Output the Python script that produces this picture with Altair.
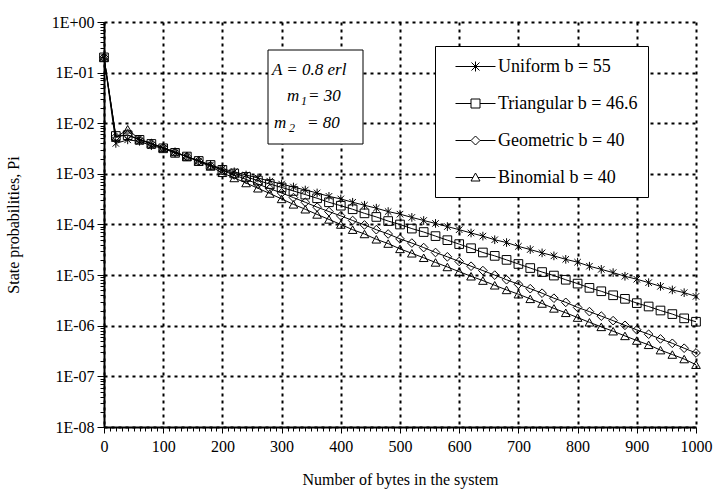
import altair as alt
import pandas as pd

bytes_x = list(range(0, 1001, 20))

series_names = ["Uniform b = 55", "Triangular b = 46.6", "Geometric b = 40", "Binomial b = 40"]

uniform = [2.0e-1, 4.0e-3, 4.7e-3, 4.4e-3, 3.6e-3, 3.2e-3, 2.6e-3, 2.2e-3, 1.8e-3, 1.5e-3,
           1.26e-3, 1.1e-3, 9.5e-4, 8.3e-4, 7.2e-4, 6.3e-4, 5.5e-4, 4.8e-4, 4.2e-4, 3.6e-4,
           3.2e-4, 2.75e-4, 2.4e-4, 2.1e-4, 1.8e-4, 1.6e-4, 1.38e-4, 1.2e-4, 1.05e-4, 9.1e-5,
           7.9e-5, 6.8e-5, 5.9e-5, 5.0e-5, 4.4e-5, 3.7e-5, 3.2e-5, 2.75e-5, 2.4e-5, 2.05e-5,
           1.8e-5, 1.5e-5, 1.3e-5, 1.12e-5, 9.5e-6, 8.3e-6, 7.1e-6, 6.0e-6, 5.1e-6, 4.5e-6,
           3.8e-6]

triangular = [2.0e-1, 5.6e-3, 5.8e-3, 4.7e-3, 3.9e-3, 3.2e-3, 2.6e-3, 2.2e-3, 1.8e-3, 1.5e-3,
              1.2e-3, 1.02e-3, 8.7e-4, 7.4e-4, 6.3e-4, 5.4e-4, 4.6e-4, 3.9e-4, 3.3e-4, 2.75e-4,
              2.35e-4, 2.0e-4, 1.66e-4, 1.41e-4, 1.17e-4, 1.0e-4, 8.3e-5, 7.1e-5, 5.9e-5, 4.9e-5,
              4.1e-5, 3.4e-5, 2.8e-5, 2.4e-5, 2.0e-5, 1.66e-5, 1.38e-5, 1.15e-5, 9.8e-6, 8.1e-6,
              6.8e-6, 5.6e-6, 4.8e-6, 4.0e-6, 3.4e-6, 2.8e-6, 2.4e-6, 2.0e-6, 1.7e-6, 1.4e-6,
              1.2e-6]

geometric = [2.0e-1, 5.4e-3, 5.9e-3, 4.8e-3, 4.0e-3, 3.3e-3, 2.7e-3, 2.2e-3, 1.8e-3, 1.45e-3,
             1.17e-3, 9.5e-4, 7.8e-4, 6.3e-4, 5.1e-4, 4.2e-4, 3.4e-4, 2.75e-4, 2.2e-4, 1.8e-4,
             1.48e-4, 1.2e-4, 9.8e-5, 7.9e-5, 6.5e-5, 5.2e-5, 4.3e-5, 3.5e-5, 2.8e-5, 2.3e-5,
             1.86e-5, 1.5e-5, 1.23e-5, 1.0e-5, 8.1e-6, 6.6e-6, 5.4e-6, 4.4e-6, 3.5e-6, 2.9e-6,
             2.3e-6, 1.9e-6, 1.55e-6, 1.26e-6, 1.02e-6, 8.3e-7, 6.8e-7, 5.5e-7, 4.5e-7, 3.6e-7,
             2.9e-7]

binomial = [2.0e-1, 5.2e-3, 7.6e-3, 4.8e-3, 4.0e-3, 3.3e-3, 2.7e-3, 2.2e-3, 1.75e-3, 1.4e-3,
            1.05e-3, 8.3e-4, 6.6e-4, 5.2e-4, 4.1e-4, 3.2e-4, 2.5e-4, 2.0e-4, 1.58e-4, 1.26e-4,
            1.0e-4, 7.9e-5, 6.5e-5, 5.1e-5, 4.2e-5, 3.3e-5, 2.7e-5, 2.2e-5, 1.78e-5, 1.45e-5,
            1.17e-5, 9.5e-6, 7.8e-6, 6.3e-6, 5.1e-6, 4.2e-6, 3.4e-6, 2.75e-6, 2.2e-6, 1.8e-6,
            1.45e-6, 1.17e-6, 9.5e-7, 7.8e-7, 6.3e-7, 5.1e-7, 4.2e-7, 3.3e-7, 2.7e-7, 2.2e-7,
            1.7e-7]

x_ticks = list(range(0, 1001, 10))
y_ticks = [m * 10.0 ** e for e in range(-8, 0) for m in range(1, 10)] + [1.0]

rows = []
for name, vals in zip(series_names, [uniform, triangular, geometric, binomial]):
    for xv, v in zip(bytes_x, vals):
        rows.append({"x": xv, "p": v, "series": name})
df = pd.DataFrame(rows)

FONT = "Liberation Serif"
STAR = "M0,-1V1M-0.75,-0.75L0.75,0.75M-0.75,0.75L0.75,-0.75"
plot_shapes = [STAR, "square", "diamond", "triangle-up"]

# legend symbols: line + marker, unit = 10 px (size 400), centre shifted right
legend_shapes = [
    "M0,0H4M2,-0.5V0.5M1.6,-0.4L2.4,0.4M1.6,0.4L2.4,-0.4",
    "M0,0H1.55M2.45,0H4M1.55,-0.45H2.45V0.45H1.55Z",
    "M0,0H1.55M2.45,0H4M1.55,0L2,-0.45L2.45,0L2,0.45Z",
    "M0,0H1.75M2.25,0H4M1.55,0.35L2,-0.45L2.45,0.35Z",
]

major_y = "abs(log(datum.value)/LN10 - round(log(datum.value)/LN10)) < 0.001"
major_x = "datum.value % 100 === 0"

x_enc = alt.X(
    "x:Q",
    scale=alt.Scale(domain=[0, 1000], nice=False, zero=False),
    axis=alt.Axis(
        values=x_ticks,
        title="Number of bytes in the system",
        labelExpr=f"{major_x} ? format(datum.value, 'd') : ''",
        tickSize={"condition": {"test": major_x, "value": 6}, "value": 4},
        gridOpacity={"condition": {"test": major_x, "value": 1}, "value": 0},
        labelFlush=False,
        labelOverlap=False,
        labelPadding=5,
        titlePadding=17,
    ),
)
y_enc = alt.Y(
    "p:Q",
    scale=alt.Scale(type="log", domain=[1e-8, 1], nice=False),
    axis=alt.Axis(
        values=y_ticks,
        title="State probabilities, Pi",
        labelExpr=f"{major_y} ? ('1E' + (datum.value > 0.5 ? '+00' : '-0' + round(-log(datum.value)/LN10))) : ''",
        tickSize={"condition": {"test": major_y, "value": 7}, "value": 4},
        gridOpacity={"condition": {"test": major_y, "value": 1}, "value": 0},
        labelFlush=False,
        labelOverlap=False,
        labelPadding=3,
        titlePadding=30,
    ),
)

lines = alt.Chart(df).mark_line(color="black", strokeWidth=1).encode(
    x=x_enc, y=y_enc, detail="series:N"
)

points = alt.Chart(df).mark_point(filled=False, color="black", strokeWidth=1, size=75, opacity=1).encode(
    x=x_enc,
    y=y_enc,
    shape=alt.Shape("series:N", scale=alt.Scale(domain=series_names, range=plot_shapes), legend=None),
)

legend_layer = alt.Chart(df).transform_filter("false").mark_point(
    filled=False, color="black", strokeWidth=1, opacity=1
).encode(
    x=x_enc,
    y=y_enc,
    shape=alt.Shape(
        "series:N",
        scale=alt.Scale(domain=series_names, range=legend_shapes),
        legend=alt.Legend(
            title=None,
            orient="none",
            legendX=331,
            legendY=24,
            padding=10,
            strokeColor="black",
            fillColor="white",
            labelFont=FONT,
            labelFontSize=18,
            labelColor="black",
            labelOffset=32,
            symbolSize=400,
            symbolStrokeWidth=1,
            symbolStrokeColor="black",
            symbolFillColor="white",
            symbolOpacity=1,
            rowPadding=17,
            labelLimit=300,
        ),
    ),
)

one = alt.Data(values=[{}])
box = alt.Chart(one).mark_rect(fill="white", stroke="black", strokeWidth=1).encode(
    x=alt.value(164), x2=alt.value(259), y=alt.value(28), y2=alt.value(122)
)

def txt(s, x, y, size=17, align="left"):
    return alt.Chart(one).mark_text(
        text=s, font=FONT, fontSize=size, fontStyle="italic", align=align, baseline="alphabetic", color="black"
    ).encode(x=alt.value(x), y=alt.value(y))

ann = [
    txt("A = 0.8 erl", 168, 53),
    txt("m", 183, 79),
    txt("1", 197, 83, size=12),
    txt("= 30", 204, 79),
    txt("m", 170, 106),
    txt("2", 185, 110, size=12),
    txt("= 80", 203, 106),
]

chart = alt.layer(lines, points, legend_layer, box, *ann).resolve_scale(shape="independent").properties(
    width=592,
    height=405,
    autosize=alt.AutoSizeParams(type="none"),
    padding={"left": 104, "top": 22, "right": 17, "bottom": 65},
).configure_view(stroke=None).configure_axis(
    labelFont=FONT,
    titleFont=FONT,
    labelFontSize=16,
    titleFontSize=16,
    titleFontWeight="normal",
    labelColor="black",
    titleColor="black",
    domainColor="black",
    domainWidth=2,
    tickColor="black",
    tickWidth=1,
    gridColor="black",
    gridDash=[3, 4],
    gridWidth=2,
)

chart.save("out.html", embed_options={"renderer": "svg", "actions": False})
